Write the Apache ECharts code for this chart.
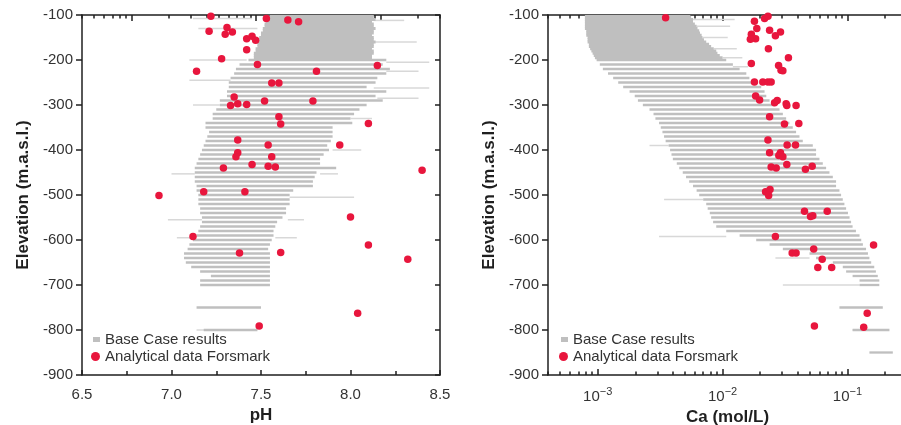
<!DOCTYPE html>
<html>
<head>
<meta charset="utf-8">
<script src="https://cdn.jsdelivr.net/npm/echarts@6/dist/echarts.min.js"></script>
<style>
  html, body { margin: 0; padding: 0; background: #ffffff; }
  #chart { width: 901px; height: 425px; }
</style>
</head>
<body>
<div id="chart"></div>
<script>
// Base Case model output, pH, shallow zone (dense cells): [elevation (m), min pH, max pH]
const phBaseUpper = [
  [-100, 7.55, 8.13], [-105, 7.54, 8.13], [-110, 7.53, 8.14], [-115, 7.53, 8.12],
  [-120, 7.52, 8.13], [-125, 7.52, 8.13], [-130, 7.51, 8.14], [-135, 7.51, 8.13],
  [-140, 7.50, 8.13], [-145, 7.50, 8.12], [-150, 7.49, 8.13], [-155, 7.49, 8.13],
  [-160, 7.48, 8.14], [-165, 7.48, 8.13], [-170, 7.48, 8.13], [-175, 7.47, 8.12],
  [-180, 7.47, 8.13], [-185, 7.46, 8.13], [-190, 7.46, 8.12], [-195, 7.46, 8.12]
];

// Base Case model output, pH, deeper rows: [elevation (m), min pH, max pH]
const phBaseRows = [
  [-200, 7.43, 8.20], [-210, 7.38, 8.18], [-220, 7.36, 8.22], [-230, 7.35, 8.20],
  [-240, 7.33, 8.15], [-250, 7.32, 8.14], [-260, 7.32, 8.09], [-270, 7.31, 8.20],
  [-280, 7.31, 8.14], [-290, 7.27, 8.18], [-300, 7.27, 8.09], [-310, 7.25, 8.05],
  [-320, 7.23, 8.02], [-330, 7.23, 8.00], [-340, 7.19, 8.01], [-350, 7.19, 7.90],
  [-360, 7.21, 7.90], [-370, 7.20, 7.90], [-380, 7.19, 7.89], [-390, 7.18, 7.87],
  [-400, 7.17, 7.88], [-410, 7.16, 7.85], [-420, 7.15, 7.83], [-430, 7.14, 7.83],
  [-440, 7.13, 7.92], [-450, 7.13, 7.81], [-460, 7.13, 7.80], [-470, 7.13, 7.79],
  [-480, 7.14, 7.79], [-490, 7.14, 7.68], [-500, 7.15, 7.66], [-510, 7.15, 7.66],
  [-520, 7.15, 7.66], [-530, 7.16, 7.64], [-540, 7.16, 7.64], [-550, 7.17, 7.62],
  [-560, 7.17, 7.59], [-570, 7.16, 7.58], [-580, 7.15, 7.57], [-590, 7.14, 7.57],
  [-600, 7.12, 7.56], [-610, 7.10, 7.55], [-620, 7.09, 7.54], [-630, 7.07, 7.55],
  [-640, 7.07, 7.55], [-650, 7.08, 7.55], [-660, 7.11, 7.55], [-670, 7.16, 7.55],
  [-680, 7.22, 7.55], [-690, 7.16, 7.55], [-700, 7.16, 7.55],
  [-750, 7.14, 7.50], [-800, 7.18, 7.48]
];

// Sparse Base Case cells (isolated results) for pH -> [elevation, min pH, max pH]
const phBaseSparse = [
  [-108, 7.12, 7.45], [-130, 7.15, 7.48], [-112, 8.13, 8.30], [-160, 8.13, 8.37],
  [-200, 7.10, 7.42], [-205, 8.20, 8.44], [-225, 8.20, 8.38], [-245, 7.10, 7.33],
  [-262, 8.13, 8.44], [-285, 8.15, 8.38], [-300, 7.12, 7.27], [-330, 8.00, 8.12],
  [-400, 7.90, 8.06], [-453, 7.00, 7.13], [-453, 7.83, 7.93], [-505, 7.66, 8.02],
  [-555, 6.98, 7.17], [-555, 7.65, 7.74], [-595, 7.03, 7.12], [-595, 7.58, 7.70],
  [-800, 7.14, 7.20]
];

// Base Case model output, Ca, shallow zone: [elevation (m), min Ca (mol/L), max Ca (mol/L)]
const caBaseUpper = [
  [-100, 0.00079, 0.0055], [-105, 0.00079, 0.0056], [-110, 0.00079, 0.0058], [-115, 0.00079, 0.0058],
  [-120, 0.00079, 0.0060], [-125, 0.00079, 0.0062], [-130, 0.00079, 0.0063], [-135, 0.00081, 0.0065],
  [-140, 0.00081, 0.0066], [-145, 0.00081, 0.0068], [-150, 0.00083, 0.0069], [-155, 0.00083, 0.0071],
  [-160, 0.00083, 0.0074], [-165, 0.00085, 0.0078], [-170, 0.00085, 0.0081], [-175, 0.00087, 0.0085],
  [-180, 0.00089, 0.0089], [-185, 0.00091, 0.0091], [-190, 0.00093, 0.0095], [-195, 0.00095, 0.0100]
];

// Base Case model output, Ca, deeper rows: [elevation (m), min Ca (mol/L), max Ca (mol/L)]
const caBaseRows = [
  [-200, 0.00098, 0.0107], [-210, 0.00104, 0.0121], [-220, 0.00110, 0.0137], [-230, 0.00121, 0.0155],
  [-240, 0.00133, 0.0164], [-250, 0.00146, 0.0186], [-260, 0.00160, 0.0204], [-270, 0.00180, 0.0217],
  [-280, 0.00198, 0.0224], [-290, 0.0021, 0.0238], [-300, 0.0023, 0.0261], [-310, 0.0026, 0.0286],
  [-320, 0.0028, 0.0304], [-330, 0.0029, 0.0323], [-340, 0.0031, 0.0343], [-350, 0.0032, 0.0365],
  [-360, 0.0033, 0.0388], [-370, 0.0034, 0.0413], [-380, 0.0035, 0.0439], [-390, 0.0037, 0.0528],
  [-400, 0.0038, 0.0561], [-410, 0.0039, 0.0561], [-420, 0.0040, 0.0597], [-430, 0.0043, 0.0635],
  [-440, 0.0045, 0.0675], [-450, 0.0048, 0.0718], [-460, 0.0051, 0.0764], [-470, 0.0054, 0.0811],
  [-480, 0.0058, 0.0811], [-490, 0.0062, 0.0863], [-500, 0.0065, 0.0890], [-510, 0.0070, 0.0918],
  [-520, 0.0074, 0.0946], [-530, 0.0076, 0.0976], [-540, 0.0079, 0.101], [-550, 0.0081, 0.104],
  [-560, 0.0084, 0.107], [-570, 0.0089, 0.110], [-580, 0.0107, 0.117], [-590, 0.0137, 0.125],
  [-600, 0.0186, 0.129], [-610, 0.0238, 0.133], [-620, 0.0304, 0.141], [-630, 0.0497, 0.146],
  [-640, 0.0561, 0.150], [-650, 0.0764, 0.155], [-660, 0.0918, 0.164], [-670, 0.0976, 0.169],
  [-680, 0.110, 0.175], [-690, 0.125, 0.180], [-700, 0.125, 0.180],
  [-750, 0.0863, 0.192], [-800, 0.110, 0.217], [-850, 0.150, 0.231]
];

// Sparse Base Case cells for Ca -> [elevation, min Ca, max Ca]
const caBaseSparse = [
  [-110, 0.0055, 0.0125], [-125, 0.0062, 0.0115], [-150, 0.0069, 0.0110], [-175, 0.0085, 0.0130],
  [-195, 0.0100, 0.0144], [-215, 0.0121, 0.0160], [-390, 0.0026, 0.0037], [-510, 0.0034, 0.0070],
  [-592, 0.0031, 0.0107], [-640, 0.0265, 0.0497], [-700, 0.0304, 0.125], [-800, 0.110, 0.125]
];

// Analytical data Forsmark: [pH, elevation (m)]
const phSamples = [
  [7.22, -103], [7.53, -108], [7.65, -111], [7.71, -115], [7.21, -136], [7.31, -128],
  [7.30, -143], [7.34, -138], [7.42, -153], [7.45, -147], [7.47, -156], [7.42, -177],
  [7.28, -197], [7.48, -210], [7.14, -225], [7.81, -225], [8.15, -212], [7.56, -251],
  [7.60, -251], [7.35, -282], [7.33, -301], [7.37, -297], [7.42, -299], [7.52, -291],
  [7.79, -291], [7.60, -326], [7.61, -342], [8.10, -341], [7.37, -378], [7.54, -389],
  [7.94, -389], [7.37, -406], [7.36, -415], [7.56, -415], [7.45, -432], [7.29, -440],
  [7.54, -436], [7.58, -438], [8.40, -445], [6.93, -501], [7.18, -493], [7.41, -493],
  [8.00, -549], [7.12, -592], [8.10, -611], [7.38, -629], [7.61, -628], [8.32, -643],
  [8.04, -763], [7.49, -791]
];

// Analytical data Forsmark: [Ca (mol/L), elevation (m)]
const caSamples = [
  [0.0035, -106], [0.0180, -114], [0.0217, -108], [0.0231, -103], [0.0188, -130], [0.0170, -143],
  [0.0184, -153], [0.0167, -154], [0.0238, -134], [0.0265, -146], [0.0291, -138], [0.0233, -175],
  [0.0337, -195], [0.0170, -208], [0.0281, -212], [0.0294, -223], [0.0304, -224], [0.0180, -249],
  [0.0210, -249], [0.0231, -249], [0.0245, -249], [0.0184, -280], [0.0198, -289], [0.0261, -295],
  [0.0274, -290], [0.0323, -297], [0.0327, -301], [0.0388, -301], [0.0238, -326], [0.0313, -342],
  [0.0408, -341], [0.0231, -378], [0.0329, -389], [0.0384, -389], [0.0238, -406], [0.0291, -406],
  [0.0282, -412], [0.0304, -415], [0.0327, -432], [0.0245, -438], [0.0269, -440], [0.0461, -443],
  [0.0522, -436], [0.0221, -493], [0.0240, -488], [0.0234, -501], [0.0453, -536], [0.0689, -536],
  [0.0506, -548], [0.0528, -546], [0.0265, -592], [0.162, -611], [0.0537, -620], [0.0361, -629],
  [0.0388, -629], [0.0628, -643], [0.0579, -661], [0.0748, -661], [0.144, -763], [0.0544, -791],
  [0.135, -794]
];

// Axis ranges and tick positions
const elevationRange = [-900, -100];
const phRange = [6.5, 8.5];
const caRange = [0.0004, 0.3];
const caDecades = [0.001, 0.01, 0.1];
const caSubTicks = [];
[0.0001, 0.001, 0.01, 0.1].forEach(d => {
  for (let m = 2; m <= 9; m++) {
    const v = +(m * d).toPrecision(2);
    if (v >= caRange[0] && v <= caRange[1]) caSubTicks.push(v);
  }
});

const FONT = '"Liberation Sans", Arial, Helvetica, sans-serif';
const INK = '#1f1f1f';
const LABEL = '#333333';
const GREY = '#bfbfbf';
const RED = '#e8163d';

const chart = echarts.init(document.getElementById('chart'), null, { renderer: 'canvas' });

// Draws one horizontal band of Base Case cells between a min and max value at one elevation
function rowRenderer(color, thickness) {
  return function (params, api) {
    const elev = api.value(0);
    const a = api.coord([api.value(1), elev]);
    const b = api.coord([api.value(2), elev]);
    return {
      type: 'rect',
      shape: { x: a[0], y: a[1] - thickness / 2, width: Math.max(b[0] - a[0], 1.5), height: thickness },
      style: { fill: color }
    };
  };
}

const lineStyle = { color: INK, width: 1.5 };
const baseAxis = {
  axisLine: { show: true, onZero: false, lineStyle },
  splitLine: { show: false },
  minorSplitLine: { show: false }
};

function caAxis(gridIndex, position, ticks, length, withLabels) {
  const ax = Object.assign({}, baseAxis, {
    gridIndex, type: 'log', logBase: 10, position,
    min: caRange[0], max: caRange[1],
    axisTick: { show: true, inside: true, length, customValues: ticks, lineStyle },
    axisLabel: { show: false }
  });
  if (withLabels) {
    ax.axisLabel = {
      show: true, customValues: caDecades, margin: 11,
      fontFamily: FONT, fontSize: 15, color: LABEL,
      formatter: v => '{b|10}{s|\u2212' + Math.abs(Math.round(Math.log10(v))) + '}',
      rich: {
        b: { fontFamily: FONT, fontSize: 15, color: LABEL, verticalAlign: 'bottom', lineHeight: 18 },
        s: { fontFamily: FONT, fontSize: 11, color: LABEL, verticalAlign: 'top', lineHeight: 18 }
      }
    };
  }
  return ax;
}

function elevAxis(gridIndex, position, withLabels) {
  return Object.assign({}, baseAxis, {
    gridIndex, type: 'value', position,
    min: elevationRange[0], max: elevationRange[1], interval: 100,
    axisTick: { show: true, inside: !withLabels, length: withLabels ? 6 : 5, lineStyle },
    axisLabel: withLabels
      ? { show: true, fontFamily: FONT, fontSize: 15, color: LABEL, margin: 9 }
      : { show: false },
    name: withLabels ? 'Elevation (m.a.s.l.)' : '',
    nameLocation: 'middle', nameRotate: 90, nameGap: 50,
    nameTextStyle: { fontFamily: FONT, fontSize: 17, fontWeight: 'bold', color: INK }
  });
}

const legendText = { fontFamily: FONT, fontSize: 15, color: LABEL };
function legendPair(x) {
  return [
    { left: x + 2, top: 332, orient: 'vertical', selectedMode: false, itemWidth: 7, itemHeight: 5,
      data: [{ name: 'Base Case results', icon: 'rect' }], textStyle: legendText, padding: 0 },
    { left: x, top: 349, orient: 'vertical', selectedMode: false, itemWidth: 9, itemHeight: 9,
      data: [{ name: 'Analytical data Forsmark', icon: 'circle' }], textStyle: legendText, padding: 0 }
  ];
}

function baseSeries(name, axisIndex, data, color, thickness) {
  return {
    name, type: 'custom', xAxisIndex: axisIndex, yAxisIndex: axisIndex,
    renderItem: rowRenderer(color, thickness), data,
    encode: { x: [1, 2], y: 0 }, itemStyle: { color: GREY }, clip: true, silent: true
  };
}

const option = {
  backgroundColor: '#ffffff',
  animation: false,
  textStyle: { fontFamily: FONT },
  grid: [
    { left: 82, top: 15, width: 358, height: 360, outerBoundsMode: 'none' },
    { left: 548, top: 15, width: 359, height: 360, outerBoundsMode: 'none' },
    { left: 82, top: 15, width: 358, height: 360, outerBoundsMode: 'none' },
    { left: 548, top: 15, width: 359, height: 360, outerBoundsMode: 'none' }
  ],
  legend: legendPair(91).concat(legendPair(559)),
  xAxis: [
    Object.assign({}, baseAxis, {
      gridIndex: 0, type: 'value', position: 'bottom',
      min: phRange[0], max: phRange[1], interval: 0.5,
      axisTick: { show: true, inside: true, length: 5, lineStyle },
      minorTick: { show: true, splitNumber: 2, length: 4, lineStyle },
      axisLabel: { fontFamily: FONT, fontSize: 15, color: LABEL, margin: 12, formatter: v => v.toFixed(1) },
      name: 'pH', nameLocation: 'middle', nameGap: 29,
      nameTextStyle: { fontFamily: FONT, fontSize: 17, fontWeight: 'bold', color: INK }
    }),
    caAxis(0, 'top', caDecades, 6, false),
    Object.assign(caAxis(1, 'bottom', caDecades, 6, true), {
      name: 'Ca (mol/L)', nameLocation: 'middle', nameGap: 26,
      nameTextStyle: { fontFamily: FONT, fontSize: 17, fontWeight: 'bold', color: INK }
    }),
    caAxis(1, 'top', caDecades, 6, false),
    Object.assign(caAxis(2, 'top', caSubTicks, 3.5, false), { axisLine: { show: false } }),
    Object.assign(caAxis(3, 'bottom', caSubTicks, 3.5, false), { axisLine: { show: false } }),
    Object.assign(caAxis(3, 'top', caSubTicks, 3.5, false), { axisLine: { show: false } })
  ],
  yAxis: [
    elevAxis(0, 'left', true),
    elevAxis(0, 'right', false),
    elevAxis(1, 'left', true),
    elevAxis(1, 'right', false),
    { gridIndex: 2, type: 'value', show: false, min: elevationRange[0], max: elevationRange[1] },
    { gridIndex: 3, type: 'value', show: false, min: elevationRange[0], max: elevationRange[1] }
  ],
  series: [
    baseSeries('Base Case results', 0, phBaseSparse, '#d8d8d8', 1.5),
    baseSeries('Base Case results', 0, phBaseUpper, GREY, 3),
    baseSeries('Base Case results', 0, phBaseRows, GREY, 2.3),
    {
      name: 'Analytical data Forsmark', type: 'scatter', xAxisIndex: 0, yAxisIndex: 0,
      data: phSamples, symbol: 'circle', symbolSize: 7.5, clip: false,
      itemStyle: { color: RED, opacity: 1 }, z: 5
    },
    baseSeries('Base Case results', 2, caBaseSparse, '#d8d8d8', 1.5),
    baseSeries('Base Case results', 2, caBaseUpper, GREY, 3),
    baseSeries('Base Case results', 2, caBaseRows, GREY, 2.3),
    {
      name: 'Analytical data Forsmark', type: 'scatter', xAxisIndex: 2, yAxisIndex: 2,
      data: caSamples, symbol: 'circle', symbolSize: 7.5, clip: false,
      itemStyle: { color: RED, opacity: 1 }, z: 5
    }
  ]
};

chart.setOption(option);
</script>
</body>
</html>
